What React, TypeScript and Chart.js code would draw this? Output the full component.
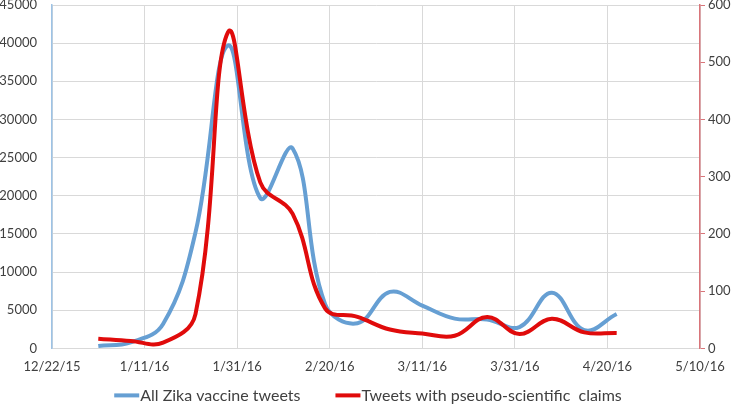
import React, { useEffect, useRef } from "react";
import { Chart, registerables } from "chart.js";

Chart.register(...registerables);

// Days since 12/22/15 (weekly samples, 1/1/16 .. 4/22/16)
const days = [10, 17, 24, 31, 38, 45, 52, 59, 66, 73, 80, 87, 94, 101, 108, 115, 122];
const allZikaTweets = [300, 800, 3200, 15200, 39700, 19700, 26200, 5800, 3300, 7400, 5600, 3900, 3800, 2800, 7300, 2400, 4500];
const pseudoScientific = [17, 13, 10, 60, 552, 290, 235, 70, 55, 33, 26, 22, 55, 25, 52, 28, 27];
const xTickLabels = ["12/22/15", "1/11/16", "1/31/16", "2/20/16", "3/11/16", "3/31/16", "4/20/16", "5/10/16"];
const leftTicks = [0, 5000, 10000, 15000, 20000, 25000, 30000, 35000, 40000, 45000];
const rightTicks = [0, 100, 200, 300, 400, 500, 600];
const seriesNames = ["All Zika vaccine tweets", "Tweets with pseudo-scientific  claims"];

const FONT = "Lato, 'Open Sans', sans-serif";
const TEXT = "#404040";
const BLUE = "#669fd3";
const RED = "#e00b0b";

// Bottom legend: line sample + label, items centred, drawn on the chart canvas
const bottomLegend = {
  id: "bottomLegend",
  afterDraw(chart: any) {
    const ctx = chart.ctx;
    const sample = 25;
    const textGap = 1;
    const itemGap = 35;
    ctx.save();
    ctx.font = `16px ${FONT}`;
    ctx.textBaseline = "middle";
    ctx.textAlign = "left";
    const items = chart.data.datasets.map((ds: any) => ({
      label: ds.label as string,
      color: ds.borderColor as string,
      w: ctx.measureText(ds.label).width,
    }));
    const total =
      items.reduce((a: number, it: any) => a + sample + textGap + it.w, 0) + itemGap * (items.length - 1);
    let x = (chart.width - total) / 2;
    const y = chart.chartArea.bottom + 47;
    items.forEach((it: any) => {
      ctx.fillStyle = it.color;
      ctx.fillRect(x, y - 2, sample, 4);
      x += sample + textGap;
      ctx.fillStyle = TEXT;
      ctx.fillText(it.label, x, y);
      x += it.w + itemGap;
    });
    ctx.restore();
  },
};

export default function App() {
  const ref = useRef<HTMLCanvasElement | null>(null);

  useEffect(() => {
    if (!ref.current) return;
    const chart = new Chart(ref.current, {
      type: "line",
      data: {
        datasets: [
          {
            label: seriesNames[0],
            data: days.map((d, i) => ({ x: d, y: allZikaTweets[i] })),
            borderColor: BLUE,
            backgroundColor: BLUE,
            borderWidth: 4,
            pointRadius: 0,
            tension: 0.4,
            yAxisID: "y",
            order: 2,
          },
          {
            label: seriesNames[1],
            data: days.map((d, i) => ({ x: d, y: pseudoScientific[i] })),
            borderColor: RED,
            backgroundColor: RED,
            borderWidth: 4,
            pointRadius: 0,
            tension: 0.4,
            yAxisID: "y1",
            order: 1,
          },
        ],
      },
      plugins: [bottomLegend],
      options: {
        animation: false,
        responsive: true,
        maintainAspectRatio: false,
        layout: { padding: { top: 5, left: 0, right: 0, bottom: 24 } },
        plugins: {
          tooltip: { enabled: false },
          legend: { display: false },
        },
        scales: {
          x: {
            type: "linear",
            min: 0,
            max: 140,
            afterBuildTicks: (s: any) => {
              s.ticks = xTickLabels.map((_, i) => ({ value: i * 20 }));
            },
            ticks: {
              autoSkip: false,
              maxRotation: 0,
              padding: 11,
              font: { family: FONT, size: 13 },
              color: TEXT,
              callback: (_v: any, i: number) => xTickLabels[i],
            },
            grid: { color: "#d9d9d9", drawTicks: false, lineWidth: 1 },
            border: { display: true, color: "#d9d9d9" },
          },
          y: {
            position: "left",
            min: 0,
            max: 45000,
            afterBuildTicks: (s: any) => {
              s.ticks = leftTicks.map((v) => ({ value: v }));
            },
            afterFit: (s: any) => {
              s.width = 52;
              s.paddingTop = 0;
              s.paddingBottom = 0;
            },
            ticks: {
              padding: 15,
              font: { family: FONT, size: 13 },
              color: TEXT,
              callback: (v: any) => String(v),
            },
            grid: { color: "#d9d9d9", drawTicks: false },
            border: { display: true, color: "#9dc3e6", width: 1.5 },
          },
          y1: {
            position: "right",
            min: 0,
            max: 600,
            afterBuildTicks: (s: any) => {
              s.ticks = rightTicks.map((v) => ({ value: v }));
            },
            afterFit: (s: any) => {
              s.width = 36;
              s.paddingTop = 0;
              s.paddingBottom = 0;
            },
            ticks: {
              padding: 3,
              font: { family: FONT, size: 13 },
              color: TEXT,
              callback: (v: any) => String(v),
            },
            grid: { drawOnChartArea: false, drawTicks: true, tickLength: 5, color: "#d9757a" },
            border: { display: true, color: "#d9757a", width: 1.5 },
          },
        },
      },
    });
    return () => chart.destroy();
  }, []);

  return (
    <div style={{ position: "fixed", left: 0, top: 0, width: 736, height: 410, background: "#fff" }}>
      <canvas ref={ref} />
    </div>
  );
}
